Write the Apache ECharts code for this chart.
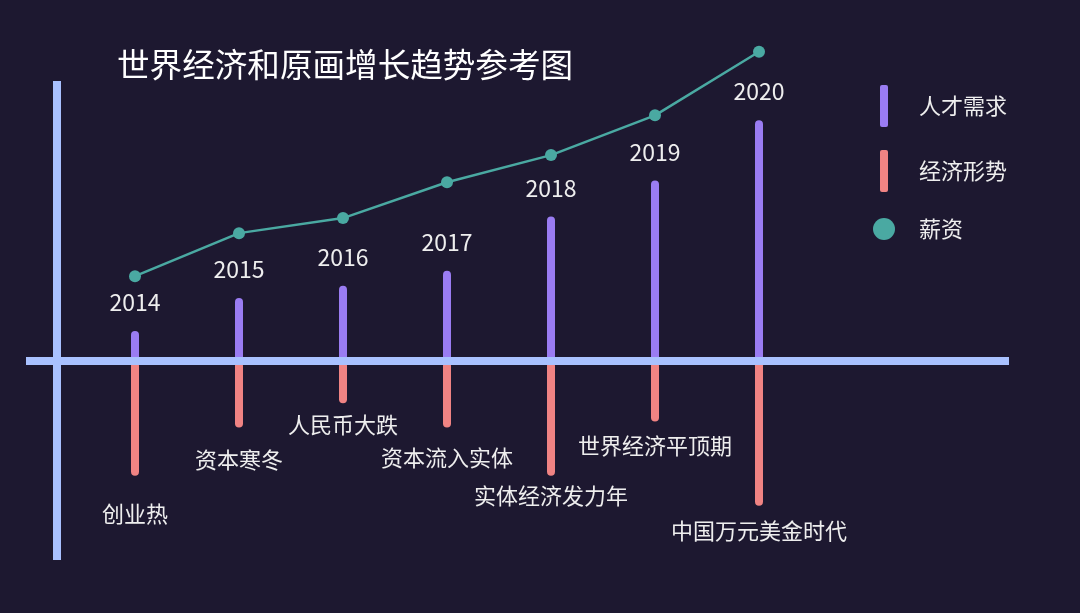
<!DOCTYPE html>
<html>
<head>
<meta charset="utf-8">
<script src="https://cdn.jsdelivr.net/npm/echarts@6/dist/echarts.min.js"></script>
<style>
html,body{margin:0;padding:0;background:#1d1830;}
#main{width:1080px;height:613px;}
</style>
</head>
<body>
<div id="main"></div>
<script>
const years = ['2014','2015','2016','2017','2018','2019','2020'];
const events = ['创业热','资本寒冬','人民币大跌','资本流入实体','实体经济发力年','世界经济平顶期','中国万元美金时代'];
const talentDemand = [1, 2.1, 2.5, 3, 4.8, 6, 8];
const economy = [-3.8, -2.2, -1.4, -2.2, -3.8, -2, -4.8];
const salary = [2.82, 4.25, 4.75, 5.94, 6.84, 8.16, 10.27];

// label spacing (styling only)
const eventLabelGap = [27, 21, 10, 19, 9, 13, 14];

const FONT = '"Noto Sans CJK SC", "Noto Sans", sans-serif';
const YMIN = -6.6, YMAX = 9.3;

const chart = echarts.init(document.getElementById('main'));
chart.setOption({
  animation: false,
  backgroundColor: '#1d1830',
  textStyle: { fontFamily: FONT },
  title: {
    text: '世界经济和原画增长趋势参考图',
    left: 112, top: 43,
    textStyle: { color: '#ffffff', fontSize: 32.6, fontWeight: 'normal', fontFamily: FONT }
  },
  legend: [
    { data: [{ name: '人才需求', icon: 'roundRect' }], left: 875, top: 80, itemWidth: 8, itemHeight: 42,
      textStyle: { color: '#eeeeee', fontSize: 22, padding: [0, 0, 0, 26], fontFamily: FONT } },
    { data: [{ name: '经济形势', icon: 'roundRect' }], left: 875, top: 145, itemWidth: 8, itemHeight: 42,
      textStyle: { color: '#eeeeee', fontSize: 22, padding: [0, 0, 0, 26], fontFamily: FONT } },
    { data: [{ name: '薪资', icon: 'circle' }], left: 868, top: 213, itemWidth: 22, itemHeight: 22,
      textStyle: { color: '#eeeeee', fontSize: 22, padding: [0, 0, 0, 19], fontFamily: FONT } }
  ],
  grid: [
    { left: 83, right: 269, top: 81, bottom: 53 },
    { left: 26, right: 71, top: 81, bottom: 53 }
  ],
  xAxis: [
    { type: 'category', gridIndex: 0, data: years, boundaryGap: true,
      axisLine: { show: false }, axisTick: { show: false }, axisLabel: { show: false }, splitLine: { show: false } },
    { type: 'category', gridIndex: 1, data: years, z: 5,
      axisLine: { show: true, onZero: true, lineStyle: { color: '#a9c1ff', width: 8, cap: 'butt' } },
      axisTick: { show: false }, axisLabel: { show: false }, splitLine: { show: false } }
  ],
  yAxis: [
    { type: 'value', gridIndex: 0, min: YMIN, max: YMAX, show: false },
    { type: 'value', gridIndex: 1, min: YMIN, max: YMAX, offset: -31, z: 5,
      axisLine: { show: true, lineStyle: { color: '#a9c1ff', width: 8, cap: 'butt' } },
      axisTick: { show: false }, axisLabel: { show: false }, splitLine: { show: false } }
  ],
  series: [
    {
      name: '人才需求', type: 'bar', xAxisIndex: 0, yAxisIndex: 0,
      data: talentDemand, barWidth: 8, barGap: '-100%',
      itemStyle: { color: '#9a7cf2', borderRadius: 4 },
      label: { show: true, position: 'top', distance: 17, color: '#eeeeee', fontSize: 23, fontFamily: FONT,
        formatter: p => years[p.dataIndex] }
    },
    {
      name: '经济形势', type: 'bar', xAxisIndex: 0, yAxisIndex: 0,
      data: economy.map((v, i) => ({ value: v, label: { distance: eventLabelGap[i] } })),
      barWidth: 8, barGap: '-100%',
      itemStyle: { color: '#f08383', borderRadius: 4 },
      label: { show: true, position: 'bottom', color: '#eeeeee', fontSize: 22, fontFamily: FONT,
        formatter: p => events[p.dataIndex] }
    },
    {
      name: '薪资', type: 'line', xAxisIndex: 0, yAxisIndex: 0,
      data: salary, clip: false, symbol: 'circle', symbolSize: 12,
      lineStyle: { color: '#4aa9a2', width: 2.5 },
      itemStyle: { color: '#4aa9a2' },
      z: 4
    }
  ]
});
</script>
</body>
</html>
